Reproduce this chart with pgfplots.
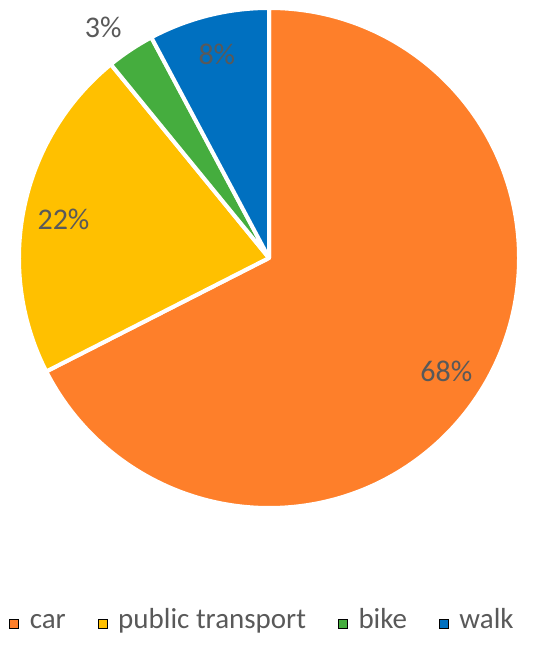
\documentclass[border=0pt]{standalone}
\usepackage{fontspec}
\setmainfont{Carlito}
\usepackage{pgfplots}
\usepackage{pgfplotstable}
\pgfplotsset{compat=1.18}

\definecolor{col0}{HTML}{FE7F2A}
\definecolor{col1}{HTML}{FFC000}
\definecolor{col2}{HTML}{45AD3E}
\definecolor{col3}{HTML}{0070C0}
\definecolor{txt}{HTML}{595959}

% share in percent, printed label, label distance from centre (px), label angle nudge
\pgfplotstableread{
name pct label lr da
car 67.5 68 208 0
public 21.6 22 210 0
bike 3.1 3 288 1.5
walk 7.8 8 215 0
}\shares

% slice angles, clockwise from 12 o'clock
\def\startang{90}
\pgfplotsforeachungrouped \i in {0,...,3}{%
  \pgfplotstablegetelem{\i}{pct}\of\shares \let\p\pgfplotsretval
  \pgfplotstablegetelem{\i}{da}\of\shares \let\da\pgfplotsretval
  \pgfmathsetmacro\endang{\startang-3.6*\p}%
  \pgfmathsetmacro\midang{(\startang+\endang)/2+\da}%
  \expandafter\xdef\csname sa\i\endcsname{\startang}%
  \expandafter\xdef\csname ea\i\endcsname{\endang}%
  \expandafter\xdef\csname ma\i\endcsname{\midang}%
  \pgfplotstablegetelem{\i}{label}\of\shares
  \expandafter\xdef\csname lb\i\endcsname{\pgfplotsretval}%
  \pgfplotstablegetelem{\i}{lr}\of\shares
  \expandafter\xdef\csname lr\i\endcsname{\pgfplotsretval}%
  \xdef\startang{\endang}%
}

\begin{document}
\begin{tikzpicture}
\begin{axis}[
  scale only axis, width=550pt, height=647pt,
  xmin=0, xmax=550, ymin=0, ymax=647,
  hide axis, clip=false,
  legend columns=-1,
  legend image code/.code={\fill[#1] (0pt,-4.5pt) rectangle (9pt,4.5pt);},
  legend style={draw=none, fill=none, at={(0.4773,0.0355)}, anchor=center,
    font=\fontsize{29}{30}\selectfont, text=txt,
    nodes={text height=15pt, text depth=6pt},
    /tikz/every odd column/.append style={column sep=9pt},
    /tikz/every even column/.append style={column sep=30pt}},
  ]
\addlegendimage{fill=col0}\addlegendentry{car}
\addlegendimage{fill=col1}\addlegendentry{public transport}
\addlegendimage{fill=col2}\addlegendentry{bike}
\addlegendimage{fill=col3}\addlegendentry{walk}

\pgfplotsinvokeforeach{0,...,3}{
  \edef\temp{\noexpand\filldraw[fill=col#1, draw=white, line width=4pt, line join=round]
    (axis cs:269,389) -- +(\csname sa#1\endcsname:250pt)
    arc[start angle=\csname sa#1\endcsname, end angle=\csname ea#1\endcsname, radius=250pt] -- cycle;}
  \temp
}
\pgfplotsinvokeforeach{0,...,3}{
  \edef\temp{\noexpand\path (axis cs:269,389) ++(\csname ma#1\endcsname:\csname lr#1\endcsname pt)
    node[text=txt, yshift=-5pt, font=\noexpand\fontsize{30}{36}\noexpand\selectfont] {\csname lb#1\endcsname\noexpand\%};}
  \temp
}
\end{axis}
\pgfresetboundingbox
\path[use as bounding box] (current axis.south west) rectangle (current axis.north east);
\end{tikzpicture}
\end{document}
